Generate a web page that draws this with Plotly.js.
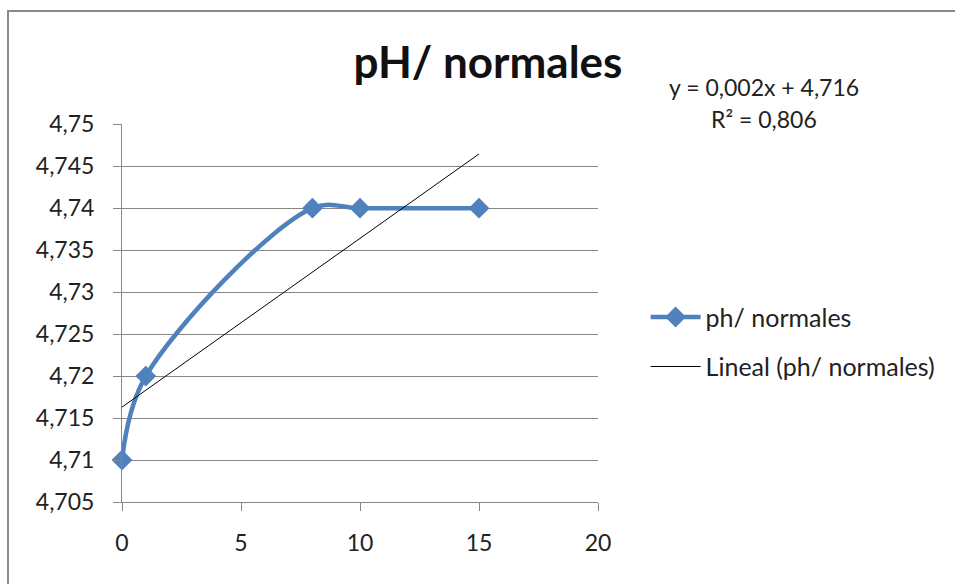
<!DOCTYPE html>
<html>
<head>
<meta charset="utf-8">
<script src="https://cdn.plot.ly/plotly-3.0.1.min.js"></script>
<style>
  html, body { margin: 0; padding: 0; background: #fff; overflow: hidden; }
  #chart { width: 955px; height: 584px; position: absolute; left: 0; top: 0; }
  #frame { position: absolute; left: 7px; top: 10px; width: 1000px; height: 700px;
           border: 2px solid #8a8a8a; pointer-events: none; }
</style>
</head>
<body>
<div id="chart"></div>
<div id="frame"></div>
<script>
// Data
const xValues = [0, 1, 8, 10, 15];
const phValues = [4.71, 4.72, 4.74, 4.74, 4.74];
const seriesName = "ph/ normales";
const trendName = "Lineal (ph/ normales)";
const trendSlope = 0.00201;
const trendIntercept = 4.7163;
const trendX = [0, 15];
const chartTitle = "pH/ normales";
const equationText = "y = 0,002x + 4,716";
const r2Text = "R² = 0,806";
const xTicks = [0, 5, 10, 15, 20];
const yTicks = [4.705, 4.71, 4.715, 4.72, 4.725, 4.73, 4.735, 4.74, 4.745, 4.75];

const trendY = trendX.map(x => trendSlope * x + trendIntercept);
const font = "Lato, 'Open Sans', sans-serif";
const gray = "#868686";

const traces = [
  {
    x: xValues, y: phValues, name: seriesName, type: "scatter", mode: "lines+markers",
    line: { color: "#4F81BD", width: 4.5, shape: "spline", smoothing: 1 },
    marker: { symbol: "diamond", size: 16, color: "#4F81BD" },
    cliponaxis: false,
    legendgroup: "a"
  },
  {
    x: trendX, y: trendY, name: trendName, type: "scatter", mode: "lines",
    line: { color: "#000000", width: 1 },
    legendgroup: "b"
  }
];

const layout = {
  width: 955, height: 584,
  margin: { l: 122, r: 357, t: 124, b: 82 },
  paper_bgcolor: "rgba(0,0,0,0)", plot_bgcolor: "#fff",
  separators: ",.",
  font: { family: font, color: "#222", size: 22 },
  title: {
    text: chartTitle, font: { family: font, size: 44, weight: "bold", color: "#111" },
    x: 0.511, xref: "container", xanchor: "center",
    y: 0.892, yref: "container", yanchor: "middle"
  },
  showlegend: true,
  legend: {
    x: 1.1, xanchor: "left", y: 0.424, yanchor: "middle",
    font: { family: font, size: 25, color: "#222" },
    traceorder: "grouped", tracegroupgap: 14, itemwidth: 50,
    bgcolor: "rgba(0,0,0,0)"
  },
  xaxis: {
    range: [0, 20], tickvals: xTicks, ticks: "outside", ticklen: 8, tickcolor: gray,
    showline: true, linecolor: gray, linewidth: 1, showgrid: false, zeroline: false,
    ticklabelstandoff: 12,
    tickfont: { family: font, size: 23, color: "#222" }, fixedrange: true
  },
  yaxis: {
    range: [4.705, 4.75002], tickvals: yTicks, ticks: "outside", ticklen: 8, tickcolor: gray,
    showline: true, linecolor: gray, linewidth: 1, showgrid: true, gridcolor: gray, gridwidth: 1,
    ticklabelstandoff: 14,
    zeroline: false, tickfont: { family: font, size: 23, color: "#222" }, fixedrange: true
  },
  annotations: [
    { text: equationText, xref: "paper", yref: "paper", x: 1.349, y: 1.097,
      xanchor: "center", yanchor: "middle", showarrow: false,
      font: { family: font, size: 23, color: "#222" } },
    { text: r2Text, xref: "paper", yref: "paper", x: 1.349, y: 1.013,
      xanchor: "center", yanchor: "middle", showarrow: false,
      font: { family: font, size: 23, color: "#222" } }
  ]
};

Plotly.newPlot("chart", traces, layout, { displayModeBar: false, staticPlot: true });
</script>
</body>
</html>
